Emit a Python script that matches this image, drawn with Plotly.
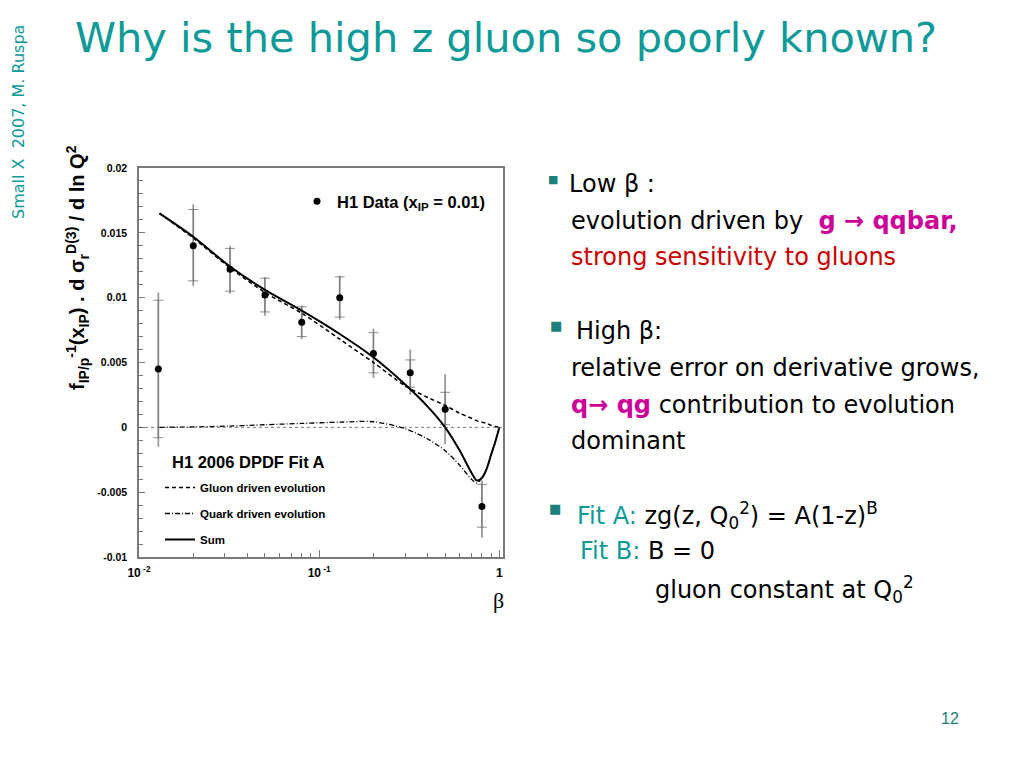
import plotly.graph_objects as go

# ---------------- data ----------------
beta_data = [0.0128, 0.020, 0.032, 0.050, 0.080, 0.13, 0.20, 0.32, 0.50, 0.80]
y_data = [0.0045, 0.0140, 0.0122, 0.0102, 0.0081, 0.0100, 0.0057, 0.0042, 0.0014, -0.0061]
stat_up = [0.0053, 0.0028, 0.0016, 0.0013, 0.0012, 0.0016, 0.0016, 0.0010, 0.0013, 0.0017]
stat_dn = [0.0053, 0.0027, 0.0017, 0.0013, 0.0011, 0.0015, 0.0015, 0.0011, 0.0012, 0.0016]
tot_up = [0.0059, 0.0032, 0.0018, 0.0014, 0.0013, 0.0017, 0.0019, 0.0018, 0.0027, 0.0020]
tot_dn = [0.0060, 0.0031, 0.0019, 0.0016, 0.0013, 0.0017, 0.0019, 0.0017, 0.0027, 0.0024]

beta_curve = [0.013, 0.02, 0.032, 0.05, 0.08, 0.13, 0.2, 0.3, 0.4, 0.5,
              0.6, 0.7, 0.75, 0.8, 0.85, 0.9, 0.95, 1.0]
gluon_curve = [0.0165, 0.0146, 0.0123, 0.0104, 0.0088, 0.0068, 0.0050, 0.0032, 0.0023, 0.0017,
               0.0011, 0.0007, 0.0005, 0.0004, 0.0003, 0.00015, 0.00007, 0.0]
quark_curve = [0.0, 0.00003, 0.0001, 0.0002, 0.0003, 0.0004, 0.00043, -0.0001, -0.0009, -0.0018,
               -0.0029, -0.0040, -0.0043, -0.0039, -0.0032, -0.0021, -0.0011, 0.0]
sum_curve = [0.0165, 0.0147, 0.0124, 0.0106, 0.0090, 0.0072, 0.0054, 0.0033, 0.0016, 0.0,
             -0.00175, -0.0035, -0.0041, -0.0039, -0.0032, -0.0021, -0.0011, 0.0]

y_tickvals = [0.02, 0.015, 0.01, 0.005, 0, -0.005, -0.01]
y_ticktext = ["0.02", "0.015", "0.01", "0.005", "0", "-0.005", "-0.01"]
x_tickvals = [0.01, 0.1, 1]
x_ticktext = ["10<sup> -2</sup>", "10<sup> -1</sup>", "1"]

# ---------------- layout constants ----------------
OFF = 8                       # page body margin of the html file
W, H = 1024 - 2 * OFF, 768 - 2 * OFF
PX0, PX1, PY0, PY1 = 139, 503, 168, 557  # plot frame in page pixels
TEAL = "#0E9A98"
BTEAL = "#1B7F7A"
MAG = "#CC0099"
RED = "#CC0000"
AX = "#7a7a7a"
SANS = "Liberation Sans, Arial, sans-serif"
SLIDE = "DejaVu Sans, sans-serif"


def px(x):
    return (x - OFF) / W


def py(y):
    return 1 - (y - OFF) / H


fig = go.Figure()

# total error (gray bar)
fig.add_trace(go.Scatter(
    x=beta_data, y=y_data, mode="markers",
    marker=dict(size=0.1, color="rgba(0,0,0,0)"),
    error_y=dict(type="data", symmetric=False, array=tot_up, arrayminus=tot_dn,
                 color="#9a9a9a", thickness=1.8, width=0),
    showlegend=False, hoverinfo="skip"))
# statistical error (ticks)
fig.add_trace(go.Scatter(
    x=beta_data, y=y_data, mode="markers",
    marker=dict(size=0.1, color="rgba(0,0,0,0)"),
    error_y=dict(type="data", symmetric=False, array=stat_up, arrayminus=stat_dn,
                 color="#707070", thickness=0.8, width=5),
    showlegend=False, hoverinfo="skip"))

# curves
fig.add_trace(go.Scatter(
    x=beta_curve, y=gluon_curve, mode="lines", name="<b>Gluon driven evolution</b>",
    line=dict(color="black", width=1.5, dash="4px,3px", shape="spline", smoothing=0.8),
    legend="legend2", legendgroup="g"))
fig.add_trace(go.Scatter(
    x=beta_curve, y=quark_curve, mode="lines", name="<b>Quark driven evolution</b>",
    line=dict(color="black", width=1.3, dash="5px,2px,1px,2px", shape="spline", smoothing=0.8),
    legend="legend2", legendgroup="q"))
fig.add_trace(go.Scatter(
    x=beta_curve, y=sum_curve, mode="lines", name="<b>Sum</b>",
    line=dict(color="black", width=2, shape="spline", smoothing=0.8),
    legend="legend2", legendgroup="s"))

# data points
fig.add_trace(go.Scatter(
    x=beta_data, y=y_data, mode="markers", name="<b>H1 Data (x<sub>IP</sub> = 0.01)</b>",
    marker=dict(size=7, color="black"), legend="legend"))

minor_x = [k * 10 ** e for e in (-2, -1) for k in range(2, 10)]

fig.update_layout(
    width=W, height=H, margin=dict(l=0, r=0, t=0, b=0),
    paper_bgcolor="white", plot_bgcolor="white",
    xaxis=dict(type="log", domain=[px(PX0), px(PX1)], range=[-2, 0.02],
               tickmode="array", tickvals=x_tickvals, ticktext=x_ticktext,
               ticks="inside", ticklen=7, tickcolor=AX, tickwidth=1,
               minor=dict(ticks="inside", ticklen=4, tickcolor=AX, tickvals=minor_x, showgrid=False),
               showgrid=False, zeroline=False, showline=True, linecolor=AX, linewidth=1.5,
               mirror=True, tickfont=dict(family=SANS, size=12, color="black", weight="bold"),
               ticklabelstandoff=4, automargin=False),
    yaxis=dict(domain=[py(PY1), py(PY0)], range=[-0.01, 0.02],
               tickmode="array", tickvals=y_tickvals, ticktext=y_ticktext,
               ticks="inside", ticklen=6, tickcolor=AX, tickwidth=1,
               minor=dict(ticks="inside", ticklen=4, tickcolor=AX, dtick=0.001, showgrid=False),
               showgrid=False, zeroline=False, showline=True, linecolor=AX, linewidth=1.5,
               mirror=True, tickfont=dict(family=SANS, size=10.5, color="black", weight="bold"),
               ticklabelstandoff=8, automargin=False),
    legend=dict(x=px(297), y=py(184), xanchor="left", yanchor="top",
                bgcolor="rgba(0,0,0,0)", borderwidth=0,
                font=dict(family=SANS, size=16.5, color="black"), itemwidth=30),
    legend2=dict(x=px(160), y=py(473), xanchor="left", yanchor="top",
                 bgcolor="rgba(0,0,0,0)", borderwidth=0, tracegroupgap=7,
                 font=dict(family=SANS, size=11.5, color="black"), itemwidth=30),
    showlegend=True,
)

# dotted zero line
fig.add_shape(type="line", xref="x domain", yref="y", x0=0, x1=1, y0=0, y1=0,
              line=dict(color="#555555", width=0.8, dash="dot"))

ann = []


def text(x, y, s, size, color="black", family=SLIDE, anchor="left", angle=0):
    ann.append(dict(x=px(x), y=py(y), xref="paper", yref="paper", text=s, showarrow=False,
                    xanchor=anchor, yanchor="middle", textangle=angle,
                    font=dict(family=family, size=size, color=color)))


# legend header of the curve legend
text(170, 462, "<b>H1 2006 DPDF Fit A</b>", 16.5, family=SANS)
# y-axis title
text(77, 268, "<b>f<sub>IP/p</sub><sup>-1</sup>(x<sub>IP</sub>) . d σ<sub>r</sub><sup>D(3)</sup> / d ln Q<sup>2</sup></b>",
     20, family=SANS, anchor="center", angle=-90)
# beta label
text(498, 600, "β", 22, family="Liberation Serif, serif", anchor="center")

# slide title and side text
text(73, 38, "Why is the high z gluon so poorly known?", 41.5, TEAL)
text(18, 122, "Small X  2007, M. Ruspa", 16, TEAL, anchor="center", angle=-90)
text(950, 718, "12", 16, BTEAL, family="Liberation Sans, sans-serif", anchor="center")

# bullets
text(553, 180, "■", 11, BTEAL, anchor="center")
text(556, 325, "■", 13, BTEAL, anchor="center")
text(555, 508, "■", 13, BTEAL, anchor="center")

FS = 24
text(567, 184, "Low β :", FS)
text(569, 221, f"evolution driven by  <b><span style='color:{MAG}'>g → qqbar,</span></b>", FS)
text(569, 257, "strong sensitivity to gluons", FS, RED)
text(574, 331, "High β:", FS)
text(569, 368, "relative error on derivative grows,", FS)
text(569, 405, f"<b><span style='color:{MAG}'>q→ qg</span></b> contribution to evolution", FS)
text(569, 441, "dominant", FS)
text(575, 515, f"<span style='color:{TEAL}'>Fit A:</span> zg(z, Q<sub>0</sub><sup>2</sup>) = A(1-z)<sup>B</sup>", FS)
text(578, 551, f"<span style='color:{TEAL}'>Fit B:</span> B = 0", FS)
text(653, 589, "gluon constant at Q<sub>0</sub><sup>2</sup>", FS)

fig.update_layout(annotations=ann)

fig.write_html("out.html", config={"displayModeBar": False})
